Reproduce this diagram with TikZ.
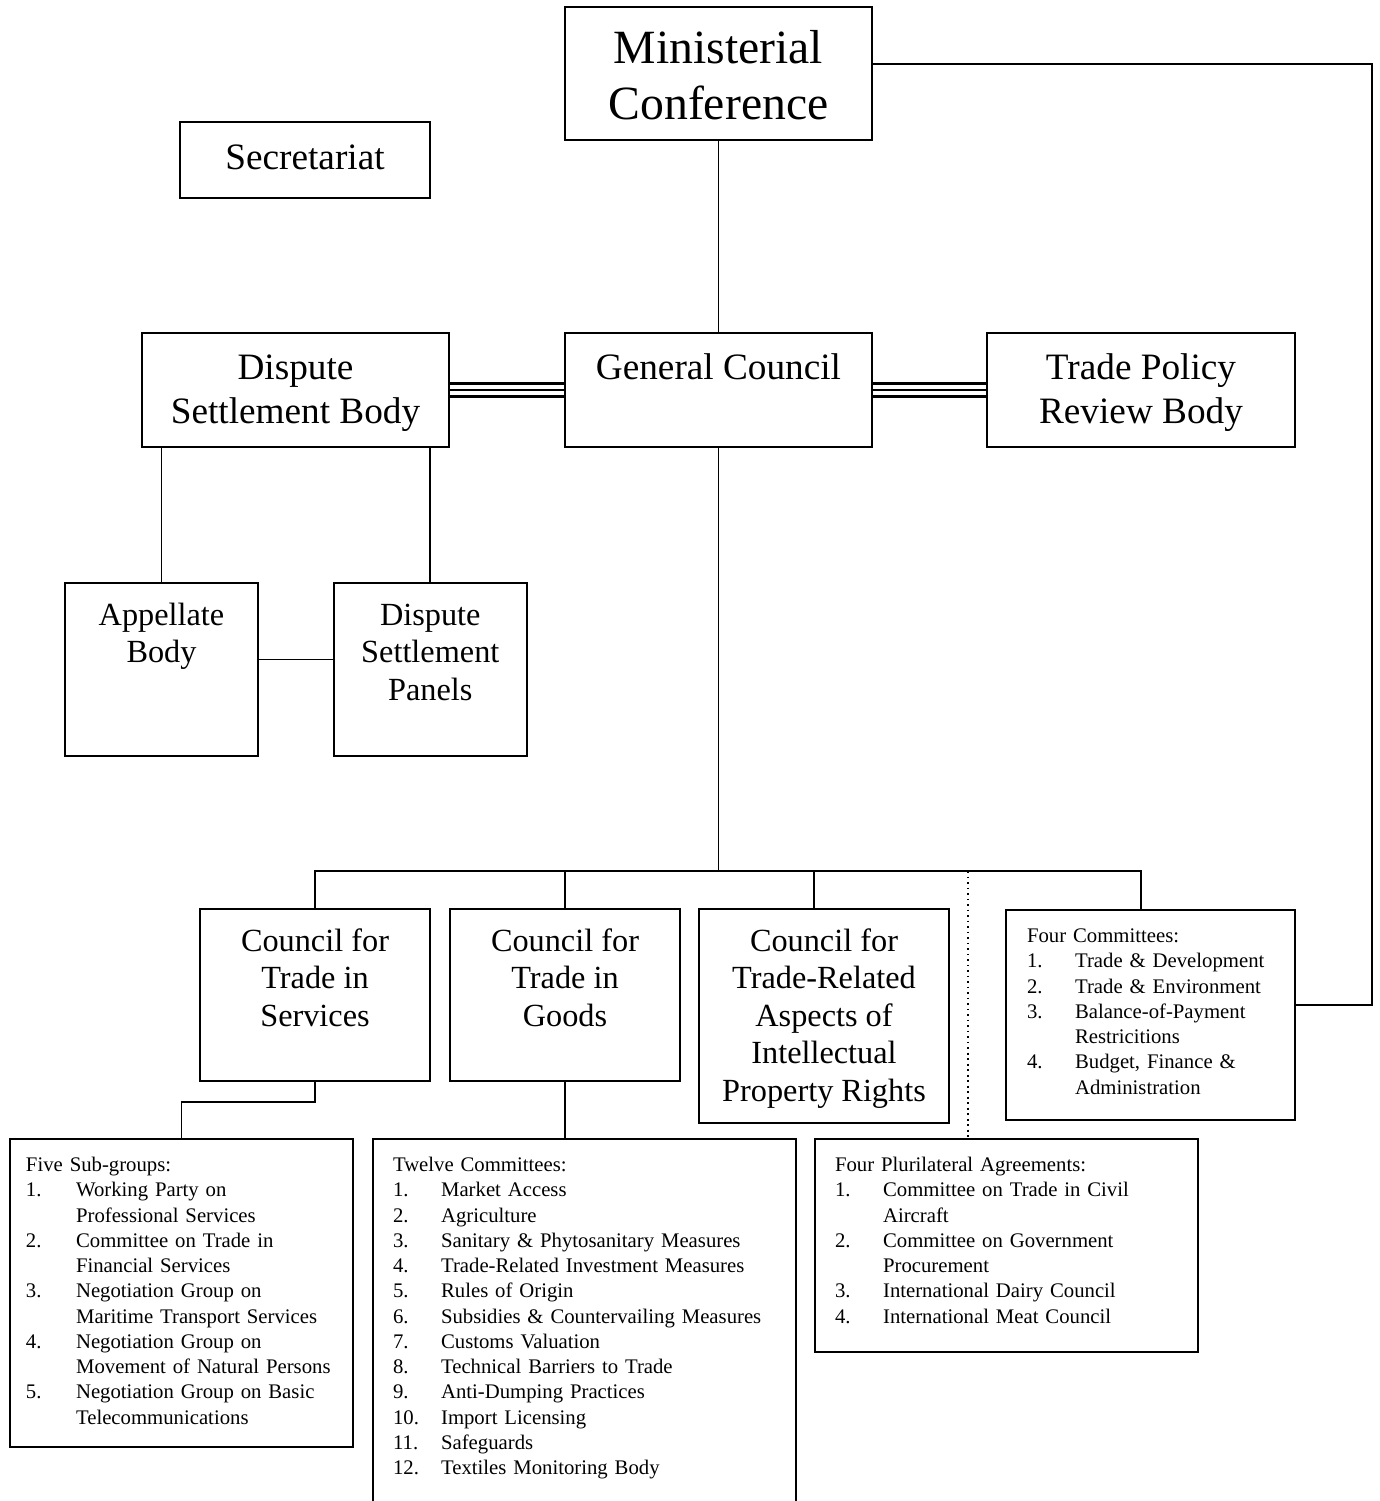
\documentclass[tikz,border=0pt]{standalone}
\usepackage{fontspec}
\setmainfont{Liberation Serif}
\usepackage{array}

\newcommand{\pxu}{0.545pt}
\newcommand{\hugefs}{\fontsize{26}{30.5}\selectfont}
\newcommand{\bigfs}{\fontsize{20.3}{24}\selectfont}
\newcommand{\midfs}{\fontsize{17.6}{20.4}\selectfont}
\newcommand{\listfs}{\fontsize{11.3}{13.76}\selectfont}

\begin{document}
\begin{tikzpicture}[x=0.545pt, y=-0.545pt,
    box/.style 2 args={draw, line width=1.1pt, inner sep=0pt,
      minimum width=#1*\pxu, minimum height=#2*\pxu},
    listbox/.style 2 args={draw, line width=1.1pt, anchor=north, text width=#1,
      inner xsep=#2, inner ysep=8.2pt, font=\listfs, align=left},
    link/.style={line width=0.9pt},
    triple/.style={line width=1.2pt, double, double distance=5.9pt}]

      \useasboundingbox (0,0) rectangle (1380,1501);
      \clip (0,0) rectangle (1380,1501);

      \begin{scope}[every node/.style={box={307}{114}}]
        \node[box={307}{133}] (mc)   at (718.5,73.5) {};
        \node[box={250}{76}]  (sec)  at (305,160)    {};
        \node (dsb)  at (295.5,390)  {};
        \node (gc)   at (718.5,390)  {};
        \node[box={308}{114}] (tprb) at (1141,390) {};
        \node[box={193}{173}] (app)  at (161.5,669.5) {};
        \node[box={193}{173}] (dsp)  at (430.3,669.5) {};
        \node[box={230}{172}] (svc)   at (315,995)  {};
        \node[box={230}{172}] (goods) at (565,995)  {};
        \node[box={250}{214}] (trips) at (824,1016) {};
      \end{scope}

      \begin{scope}[every node/.style={anchor=north,inner sep=0pt,align=center}]
        \node[font=\hugefs] (mctxt)  at (718.5,23.8) {\strut Ministerial\\Conference};
        \node[font=\bigfs] (sectxt)  at (305,138.2)  {\strut Secretariat};
        \node[font=\bigfs] (dsbtxt)  at (295.5,348.2) {\strut Dispute\\Settlement Body};
        \node[font=\bigfs] (gctxt)   at (718.5,348.2) {\strut General Council};
        \node[font=\bigfs] (tprbtxt) at (1141,348.2)  {\strut Trade Policy\\Review Body};
        \node[font=\midfs] (apptxt)  at (161.5,598.8) {\strut Appellate\\Body};
        \node[font=\midfs] (dsptxt)  at (430.3,598.8) {\strut Dispute\\Settlement\\Panels};
        \node[font=\midfs] (svctxt)  at (315,924.8)   {\strut Council for\\Trade in\\Services};
        \node[font=\midfs] (goodstxt) at (565,924.8)  {\strut Council for\\Trade in\\Goods};
        \node[font=\midfs] (tripstxt) at (824,924.8)  {\strut Council for\\Trade-Related\\Aspects of\\Intellectual\\Property Rights};
      \end{scope}

      % lists of committees
      \node[listbox={134.6pt}{11.4pt}] (fourc) at (1150.5,909) {%
        \begin{tabular}{@{}p{26.2pt}@{}l@{}}
          \multicolumn{2}{@{}l@{}}{Four Committees:}\\
          1. & Trade \& Development\\
          2. & Trade \& Environment\\
          3. & Balance-of-Payment\\
             & Restricitions\\
          4. & Budget, Finance \&\\
             & Administration\\[1.6pt]
        \end{tabular}};
      \node[listbox={169.5pt}{8.7pt}] (sub) at (181.5,1138) {%
        \begin{tabular}{@{}p{27.3pt}@{}l@{}}
          \multicolumn{2}{@{}l@{}}{Five Sub-groups:}\\
          1. & Working Party on\\
             & Professional Services\\
          2. & Committee on Trade in\\
             & Financial Services\\
          3. & Negotiation Group on\\
             & Maritime Transport Services\\
          4. & Negotiation Group on\\
             & Movement of Natural Persons\\
          5. & Negotiation Group on Basic\\
             & Telecommunications
        \end{tabular}};
      \node[listbox={208.7pt}{10.9pt}] (twelve) at (584.5,1138) {%
        \begin{tabular}{@{}p{26.2pt}@{}l@{}}
          \multicolumn{2}{@{}l@{}}{Twelve Committees:}\\
          1.  & Market Access\\
          2.  & Agriculture\\
          3.  & Sanitary \& Phytosanitary Measures\\
          4.  & Trade-Related Investment Measures\\
          5.  & Rules of Origin\\
          6.  & Subsidies \& Countervailing Measures\\
          7.  & Customs Valuation\\
          8.  & Technical Barriers to Trade\\
          9.  & Anti-Dumping Practices\\
          10. & Import Licensing\\
          11. & Safeguards\\
          12. & Textiles Monitoring Body\\
              & \\
              &
        \end{tabular}};
      \node[listbox={186.9pt}{10.9pt}] (pluri) at (1006.5,1138) {%
        \begin{tabular}{@{}p{26.2pt}@{}l@{}}
          \multicolumn{2}{@{}l@{}}{Four Plurilateral Agreements:}\\
          1. & Committee on Trade in Civil\\
             & Aircraft\\
          2. & Committee on Government\\
             & Procurement\\
          3. & International Dairy Council\\
          4. & International Meat Council\\[3.3pt]
        \end{tabular}};

      % links
      \draw[link] (mc) -- (gc);
      \draw[link] ([yshift=5.2pt]mc.east) -- ++(499,0) |- ([yshift=5.45pt]fourc.east);

      \draw[triple] (dsb) -- (gc);
      \draw[link] (dsb) -- (gc);
      \draw[triple] (gc) -- (tprb);
      \draw[link] (gc) -- (tprb);

      \draw[link] (app.north) -- (app.north |- dsb.south);
      \draw[link] (dsp.north) -- (dsp.north |- dsb.south);
      \draw[link] ([yshift=5.55pt]app.east) -- ([yshift=5.55pt]dsp.west);

      \coordinate (bus) at (718.5,871);
      \draw[link] (gc) -- (bus);
      \draw[link] (svc.north) |- (bus) -| ([xshift=-5.2pt]fourc.north);
      \draw[link] (goods.north) -- (goods.north |- bus);
      \draw[link] ([xshift=-5.3pt]trips.north) -- ([xshift=-5.3pt]trips.north |- bus);

      \coordinate (pl) at (968,871);
      \draw[dotted, line width=1pt] (pl) -- (pl |- pluri.north);

      \draw[link] (svc.south) -- ++(0,20) -| (sub.north);
      \draw[link] (goods.south) -- (goods.south |- twelve.north);

    \end{tikzpicture}
\end{document}
